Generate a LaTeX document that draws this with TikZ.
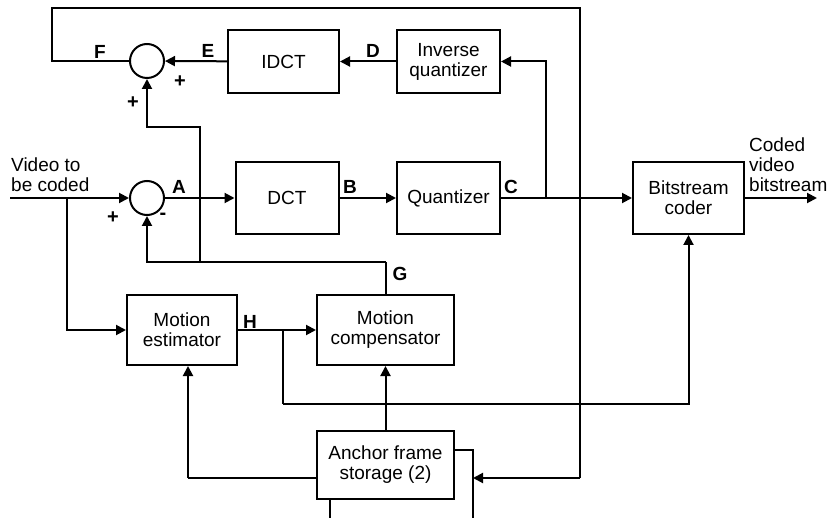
\documentclass[tikz,border=0pt]{standalone}
\usepackage{fontspec}
\setmainfont{Liberation Sans}
\usepackage{tikz}
\usetikzlibrary{arrows.meta,positioning}
\tikzset{
  procbox/.style={rectangle,draw=black,line width=2pt,align=center,inner sep=2pt,fill=white},
  sumnode/.style={circle,draw=black,line width=2pt,minimum size=34pt,inner sep=0pt},
  sigline/.style={line width=2pt,draw=black},
  sigarrow/.style={-{Triangle[length=10pt,width=10pt]},line width=2pt,draw=black},
  siglabel/.style={font=\bfseries\fontsize{19}{21}\selectfont,inner sep=0pt},
  signlabel/.style={font=\bfseries\fontsize{20}{20}\selectfont,inner sep=0pt}
}

\begin{document}
\begin{tikzpicture}[x=1pt,y=-1pt,font=\fontsize{19}{20}\selectfont]
  \useasboundingbox (0,0) rectangle (837,518);
  \node[sumnode] (sumf) at (147,61) {};
  \node[sumnode] (suma) at (147,198) {};
  \node[procbox,minimum width=111pt,minimum height=63pt] (idct) at (283.5,61.5) {IDCT};
  \node[procbox,minimum width=103pt,minimum height=63pt] (iq) at (448.5,61.5) {Inverse\\quantizer};
  \node[procbox,minimum width=103pt,minimum height=72pt] (dct) at (287,198) {DCT};
  \node[procbox,minimum width=103pt,minimum height=72pt] (quant) at (448.5,198) {Quantizer};
  \node[procbox,minimum width=111pt,minimum height=72pt] (bsc) at (688.5,198) {Bitstream\\coder};
  \node[procbox,minimum width=110pt,minimum height=70pt] (me) at (182,330) {Motion\\estimator};
  \node[procbox,minimum width=137pt,minimum height=70pt] (mc) at (385.5,330) {Motion\\compensator};
  \node[procbox,minimum width=137pt,minimum height=68pt] (afs) at (385.5,465) {Anchor frame\\storage (2)};
  \node[align=left,anchor=south west,inner sep=0pt] (vin) at (11,192) {Video to\\be coded};
  \node[align=left,anchor=south west,inner sep=0pt] (vout) at (749,192) {Coded\\video\\bitstream};
  \coordinate (in) at (10,198);
  \coordinate (out) at (817,198);
  \coordinate (inj) at (67,198);
  \coordinate (cj) at (546,198);
  \coordinate (hj) at (283,330);
  \coordinate (hb) at (283,404);
  \coordinate (gt) at (385.5,262);
  \coordinate (gj) at (200,262);
  \coordinate (gu) at (200,127);
  \coordinate (fl) at (52,8);
  \coordinate (fr) at (580,8);
  \coordinate (fb) at (580,478);
  \coordinate (lp) at (473,478);
  \coordinate (lpt) at (473,450);
  \coordinate (lpb) at (473,518);
  \coordinate (afsr) at (454,450);
  \coordinate (afsl) at (317,478);
  \coordinate (mel) at (188,478);
  \coordinate (afsb) at (330,499);
  \coordinate (afsbb) at (330,518);
  \draw[sigline] (in) -- (inj);
  \draw[sigarrow] (inj) -- (suma);
  \draw[sigarrow] (inj) |- (me.west);
  \draw[sigarrow] (suma) -- (dct);
  \draw[sigarrow] (dct) -- (quant);
  \draw[sigarrow] (quant) -- (bsc);
  \draw[sigarrow] (bsc) -- (out);
  \draw[sigarrow] (cj) |- (iq.east);
  \draw[sigarrow] (iq) -- (idct);
  \draw[sigarrow] (idct) -- (sumf);
  \draw[sigline] (sumf.west) -| (fl) -- (fr) -- (fb);
  \draw[sigarrow] (fb) -- (lp);
  \draw[sigline] (afsr) -- (lpt) -- (lpb);
  \draw[sigline] (afsb) -- (afsbb);
  \draw[sigline] (mc.north) -- (gt);
  \draw[sigarrow] (gt) -| (suma.south);
  \draw[sigarrow] (gj) -- (gu) -| (sumf.south);
  \draw[sigarrow] (me) -- (mc);
  \draw[sigline] (hj) -- (hb);
  \draw[sigarrow] (hb) -| (bsc.south);
  \draw[sigarrow] (afs) -- (mc);
  \draw[sigline] (afsl) -- (mel);
  \draw[sigarrow] (mel) -- (me.south -| mel);
  \node[siglabel] (lf) at (100,52) {F};
  \node[siglabel] (le) at (208,51) {E};
  \node[siglabel] (ld) at (373,51) {D};
  \node[siglabel] (la) at (179,187) {A};
  \node[siglabel] (lb) at (350,187) {B};
  \node[siglabel] (lc) at (511,187) {C};
  \node[siglabel] (lg) at (400,274) {G};
  \node[siglabel] (lh) at (250,322) {H};
  \node[signlabel] (p1) at (133,103) {+};
  \node[signlabel] (p2) at (180,82) {+};
  \node[signlabel] (p3) at (113,218) {+};
  \node[signlabel] (m1) at (163,216) {-};
\end{tikzpicture}
\end{document}
